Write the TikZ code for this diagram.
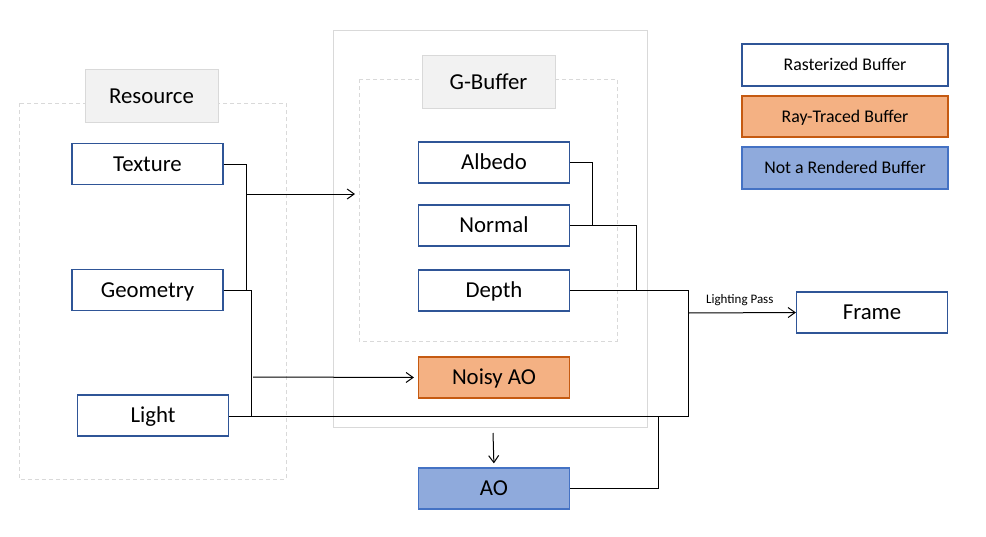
\documentclass[tikz,border=0pt]{standalone}
\usepackage{fontspec}
\setmainfont{Carlito}
\usetikzlibrary{arrows.meta}
\definecolor{bblue}{HTML}{2F5597}
\definecolor{ofill}{HTML}{F4B183}
\definecolor{oline}{HTML}{C55A11}
\definecolor{lbfill}{HTML}{8FAADC}
\definecolor{lbline}{HTML}{4472C4}
\definecolor{gfill}{HTML}{F2F2F2}
\definecolor{gline}{HTML}{D9D9D9}
\tikzset{
  buf/.style={draw=bblue, line width=1.2pt, fill=white, minimum width=151pt, minimum height=41pt, inner sep=0pt, text height=14.7pt, text depth=0pt, font=\fontsize{22.8}{26}\selectfont},
  rt/.style={buf, draw=oline, fill=ofill},
  nr/.style={buf, draw=lbline, fill=lbfill},
  leg/.style={buf, minimum width=206pt, text height=11.5pt, font=\fontsize{17.8}{21}\selectfont},
  title/.style={draw=gline, line width=1pt, fill=gfill, minimum width=133pt, minimum height=53pt, inner sep=0pt, text height=14.7pt, text depth=0pt, font=\fontsize{22.8}{26}\selectfont},
  grp/.style={draw=gline, line width=0.9pt, dashed, dash pattern=on 4pt off 3pt},
  outer/.style={draw=gline, line width=1pt},
  conn/.style={draw=black, line width=1pt},
  arr/.style={conn, -{Straight Barb[length=7pt,width=10pt]}},
}
\begin{document}
\begin{tikzpicture}[x=1pt,y=-1pt]
\useasboundingbox (0,0) rectangle (986,536);
% groups
\draw[outer] (333,30) rectangle (647,427);
\draw[grp] (19,103) rectangle (286,479);
\draw[grp] (359,79) rectangle (617,341);
\node[title] (res) at (151.5,96) {Resource};
\node[title] (gbt) at (488.5,82) {G-Buffer};
% resource nodes
\node[buf] (tex) at (147.5,164) {Texture};
\node[buf] (geo) at (147.5,290) {Geometry};
\node[buf] (light) at (153,415.5) {Light};
% gbuffer nodes
\node[buf] (alb) at (494,162.5) {Albedo};
\node[buf] (nor) at (494,225.5) {Normal};
\node[buf] (dep) at (494,290.5) {Depth};
\node[rt] (noisy) at (494,377.5) {Noisy AO};
\node[nr] (ao) at (494,488.5) {AO};
\node[buf] (frame) at (872,312.5) {Frame};
% legend
\node[leg, minimum height=42pt] (l1) at (845,65) {Rasterized Buffer};
\node[leg, draw=oline, fill=ofill] (l2) at (845,116.5) {Ray-Traced Buffer};
\node[leg, draw=lbline, fill=lbfill, minimum height=42pt] (l3) at (845,168) {Not a Rendered Buffer};
% coordinates
\coordinate (j1) at (246,290);
\coordinate (j2) at (246,194);
\coordinate (gbin) at (355,194);
\coordinate (j3) at (251,416);
\coordinate (j4) at (253,377);
\coordinate (j5) at (688,416);
\coordinate (j6) at (688,313);
\coordinate (j7) at (636,290.5);
\coordinate (j8) at (592,225.5);
\coordinate (j9) at (658,416);
\coordinate (j10) at (493,433);
% connectors
\draw[conn] (tex.east) -| (j1);
\draw[conn] (geo.east) -- (j1);
\draw[arr] (j2) -- (gbin);
\draw[conn] (geo.east) -| (j3);
\draw[arr, shorten >=4pt] (j4) -- (noisy.west);
\draw[conn] (light.east |- j5) -- (j5) -- (dep.east -| j5) -- (dep.east);
\draw[conn] (nor.east) -| (j7);
\draw[conn] (alb.east) -| (j8);
\draw[arr] (j6) -- node[above=3pt, font=\fontsize{13}{15}\selectfont, pos=0.48] (lp) {Lighting Pass} (frame.west);
\draw[conn] (ao.east) -| (j9);
\draw[arr, shorten >=4pt] (j10) -- (ao.north);
\end{tikzpicture}
\end{document}
